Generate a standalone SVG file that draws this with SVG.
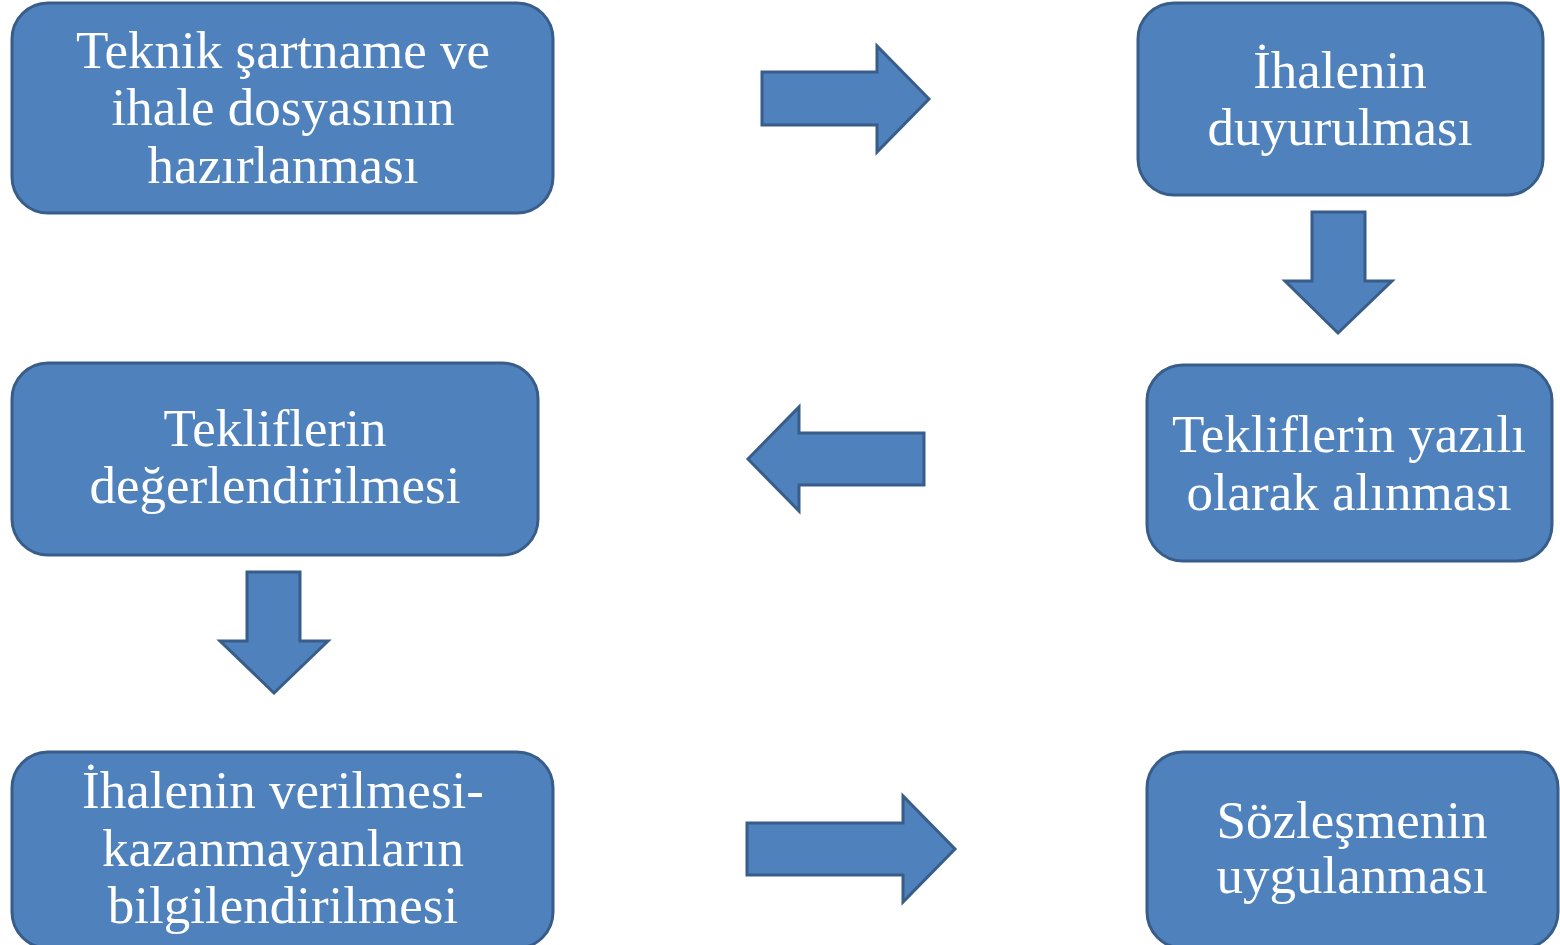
<svg xmlns="http://www.w3.org/2000/svg" width="1560" height="945" viewBox="0 0 1560 945">
<style>
.box{fill:#4F81BD;stroke:#385D8A;stroke-width:3}
.arr{fill:#4F81BD;stroke:#385D8A;stroke-width:3;stroke-linejoin:miter}
.t{font-family:"Liberation Serif","DejaVu Serif",serif;font-size:53px;fill:#FFFFFF;text-anchor:middle}
</style>
<rect width="1560" height="945" fill="#FFFFFF"/>
<g id="n1"><rect class="box" x="12" y="3" width="541" height="210" rx="36"/>
<text class="t"><tspan x="283" y="68">Teknik şartname ve</tspan><tspan x="283" y="125">ihale dosyasının</tspan><tspan x="283" y="183">hazırlanması</tspan></text></g>
<g id="n2"><rect class="box" x="1138" y="3" width="405" height="192" rx="36"/>
<text class="t"><tspan x="1340" y="88">İhalenin</tspan><tspan x="1340" y="145">duyurulması</tspan></text></g>
<g id="n3"><rect class="box" x="1147" y="365" width="405" height="196" rx="36"/>
<text class="t"><tspan x="1349" y="452">Tekliflerin yazılı</tspan><tspan x="1349" y="510">olarak alınması</tspan></text></g>
<g id="n4"><rect class="box" x="12" y="363" width="526" height="192" rx="36"/>
<text class="t"><tspan x="275" y="446">Tekliflerin</tspan><tspan x="275" y="503">değerlendirilmesi</tspan></text></g>
<g id="n5"><rect class="box" x="12" y="752" width="541" height="196" rx="36"/>
<text class="t"><tspan x="283" y="808">İhalenin verilmesi-</tspan><tspan x="283" y="866">kazanmayanların</tspan><tspan x="283" y="923">bilgilendirilmesi</tspan></text></g>
<g id="n6"><rect class="box" x="1147" y="752" width="411" height="196" rx="36"/>
<text class="t"><tspan x="1352" y="838">Sözleşmenin</tspan><tspan x="1352" y="893">uygulanması</tspan></text></g>
<g id="connectors">
<polygon class="arr" points="762,72 877,72 877,46 929,99 877,152 877,125 762,125"/>
<polygon class="arr" points="1312,212 1365,212 1365,281 1392,281 1338,333 1285,281 1312,281"/>
<polygon class="arr" points="924,433 799,433 799,407 748,459 799,511 799,485 924,485"/>
<polygon class="arr" points="247,572 300,572 300,641 328,641 274,693 220,641 247,641"/>
<polygon class="arr" points="747,823 903,823 903,796 955,849 903,902 903,875 747,875"/>
</g>
</svg>
